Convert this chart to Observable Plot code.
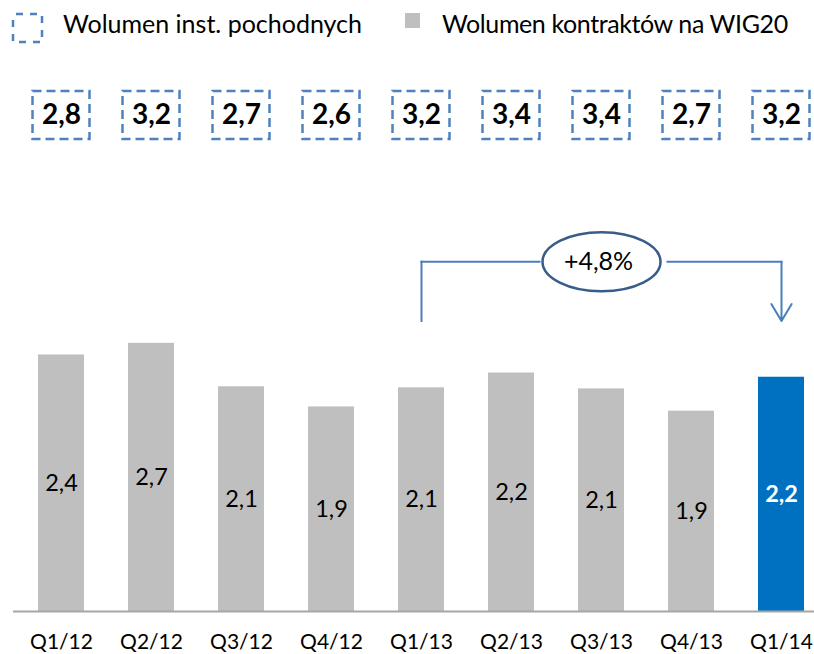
<!DOCTYPE html>
<html>
<head>
<meta charset="utf-8">
<script src="https://cdn.jsdelivr.net/npm/d3@7"></script>
<script src="https://cdn.jsdelivr.net/npm/@observablehq/plot@0.6"></script>
<style>
  html, body { margin: 0; padding: 0; background: #fff; }
  body { width: 814px; height: 654px; overflow: hidden; font-family: Lato, sans-serif; }
  #legend { position: relative; height: 56px; }
  #legend .txt { position: absolute; top: 11px; font-size: 25px; line-height: 1; color: #000; white-space: nowrap; }
  #legend svg { position: absolute; }
</style>
</head>
<body>
<div id="legend"></div>
<div id="chart"></div>
<script>
// ---- data ----
const quarters = ["Q1/12", "Q2/12", "Q3/12", "Q4/12", "Q1/13", "Q2/13", "Q3/13", "Q4/13", "Q1/14"];
const derivativesVolume = [2.8, 3.2, 2.7, 2.6, 3.2, 3.4, 3.4, 2.7, 3.2];      // dashed boxes (bn)
const wig20Bars = [2.42, 2.53, 2.12, 1.93, 2.11, 2.25, 2.10, 1.89, 2.21];      // bar heights as drawn
const wig20Labels = [2.4, 2.7, 2.1, 1.9, 2.1, 2.2, 2.1, 1.9, 2.2];            // printed values
const highlightQuarter = "Q1/14";
const compareFrom = "Q1/13";
const changeText = "+4,8%";
const legendLabels = ["Wolumen inst. pochodnych", "Wolumen kontraktów na WIG20"];

// ---- layout (in y-scale units) ----
const boxBottom = 4.453, boxTop = 4.906, boxMid = 4.68;
const bracketTop = 3.30, bracketBottom = 2.741;

const fmt = v => v.toFixed(1).replace(".", ",");
const data = quarters.map((q, i) => ({
  q, deriv: derivativesVolume[i], bar: wig20Bars[i], label: wig20Labels[i], hi: q === highlightQuarter
}));

// ---- legend ----
const legend = document.getElementById("legend");
legend.innerHTML = `
  <svg style="left:10px;top:11px" width="36" height="36">
    <rect x="3" y="3" width="29" height="28" fill="none" stroke="#4f81bd" stroke-width="2.5" stroke-dasharray="7,7" stroke-dashoffset="-3"></rect>
  </svg>
  <div class="txt" style="left:63px">${legendLabels[0]}</div>
  <div style="position:absolute;left:405px;top:13px;width:15px;height:15px;background:#bfbfbf"></div>
  <div class="txt" style="left:442px;letter-spacing:-0.4px">${legendLabels[1]}</div>`;

// ---- ellipse symbol ----
const ellipse = {
  draw(c) {
    const a = 59, b = 29.5, k = 0.5523;
    c.moveTo(a, 0);
    c.bezierCurveTo(a, b * k, a * k, b, 0, b);
    c.bezierCurveTo(-a * k, b, -a, b * k, -a, 0);
    c.bezierCurveTo(-a, -b * k, -a * k, -b, 0, -b);
    c.bezierCurveTo(a * k, -b, a, -b * k, a, 0);
    c.closePath();
  }
};

const midQuarter = quarters[6];
const lineStyle = { stroke: "#4a7ebb", strokeWidth: 2 };

const chart = Plot.plot({
  width: 814,
  height: 598,
  marginTop: 0,
  marginBottom: 43,
  marginLeft: 28,
  marginRight: 0,
  style: { fontFamily: "Lato, sans-serif", fontSize: "21px", color: "#000", background: "transparent", overflow: "visible" },
  x: { domain: quarters, type: "band", paddingInner: 0.49, paddingOuter: 0.0876, tickSize: 0, tickPadding: 23, label: null },
  y: { domain: [0, 555 / 106], axis: null },
  marks: [
    // dashed boxes with derivative volumes
    Plot.barY(data, { x: "q", y1: () => boxBottom, y2: () => boxTop, fill: "none", stroke: "#4f81bd",
      strokeWidth: 2.5, strokeDasharray: "9,5", insetLeft: -5.5, insetRight: -5.5 }),
    Plot.text(data, { x: "q", y: () => boxMid, text: d => fmt(d.deriv), fontSize: 28, fontWeight: "bold", fill: "#000" }),
    // bars
    Plot.barY(data.filter(d => !d.hi), { x: "q", y: "bar", fill: "#bfbfbf" }),
    Plot.barY(data.filter(d => d.hi), { x: "q", y: "bar", fill: "#0070c0" }),
    Plot.text(data.filter(d => !d.hi), { x: "q", y: d => d.bar / 2, text: d => fmt(d.label), fontSize: 23.5, fill: "#000" }),
    Plot.text(data.filter(d => d.hi), { x: "q", y: d => d.bar / 2, text: d => fmt(d.label), fontSize: 23.5, fontWeight: "bold", fill: "#fff" }),
    // baseline
    Plot.ruleY([0], { stroke: "#a6a6a6", strokeWidth: 2, insetLeft: -15 }),
    // bracket: left leg, two horizontal segments broken by the ellipse, right arrow
    Plot.line([
      { x: compareFrom, y: bracketBottom },
      { x: compareFrom, y: bracketTop }
    ], { x: "x", y: "y", ...lineStyle, strokeLinecap: "square" }),
    Plot.arrow([{ a: compareFrom, b: midQuarter, y: bracketTop }], {
      x1: "a", x2: "b", y1: "y", y2: "y", ...lineStyle, headLength: 0, insetEnd: 62, strokeLinecap: "square"
    }),
    Plot.arrow([{ a: midQuarter, b: highlightQuarter, y: bracketTop }], {
      x1: "a", x2: "b", y1: "y", y2: "y", ...lineStyle, headLength: 0, insetStart: 66, strokeLinecap: "square"
    }),
    Plot.arrow([{ x: highlightQuarter, y1: bracketTop, y2: bracketBottom }], {
      x1: "x", x2: "x", y1: "y1", y2: "y2", ...lineStyle, headLength: 21, headAngle: 62
    }),
    // ellipse with change
    Plot.dot([{ x: midQuarter, y: bracketTop }], { x: "x", y: "y", symbol: ellipse, r: 10, fill: "#fff", stroke: "#385d8a", strokeWidth: 2.5 }),
    Plot.text([{ x: midQuarter, y: bracketTop, t: changeText }], { x: "x", y: "y", text: "t", fontSize: 25, fill: "#000", dx: -3 })
  ]
});
document.getElementById("chart").appendChild(chart);
</script>
</body>
</html>
